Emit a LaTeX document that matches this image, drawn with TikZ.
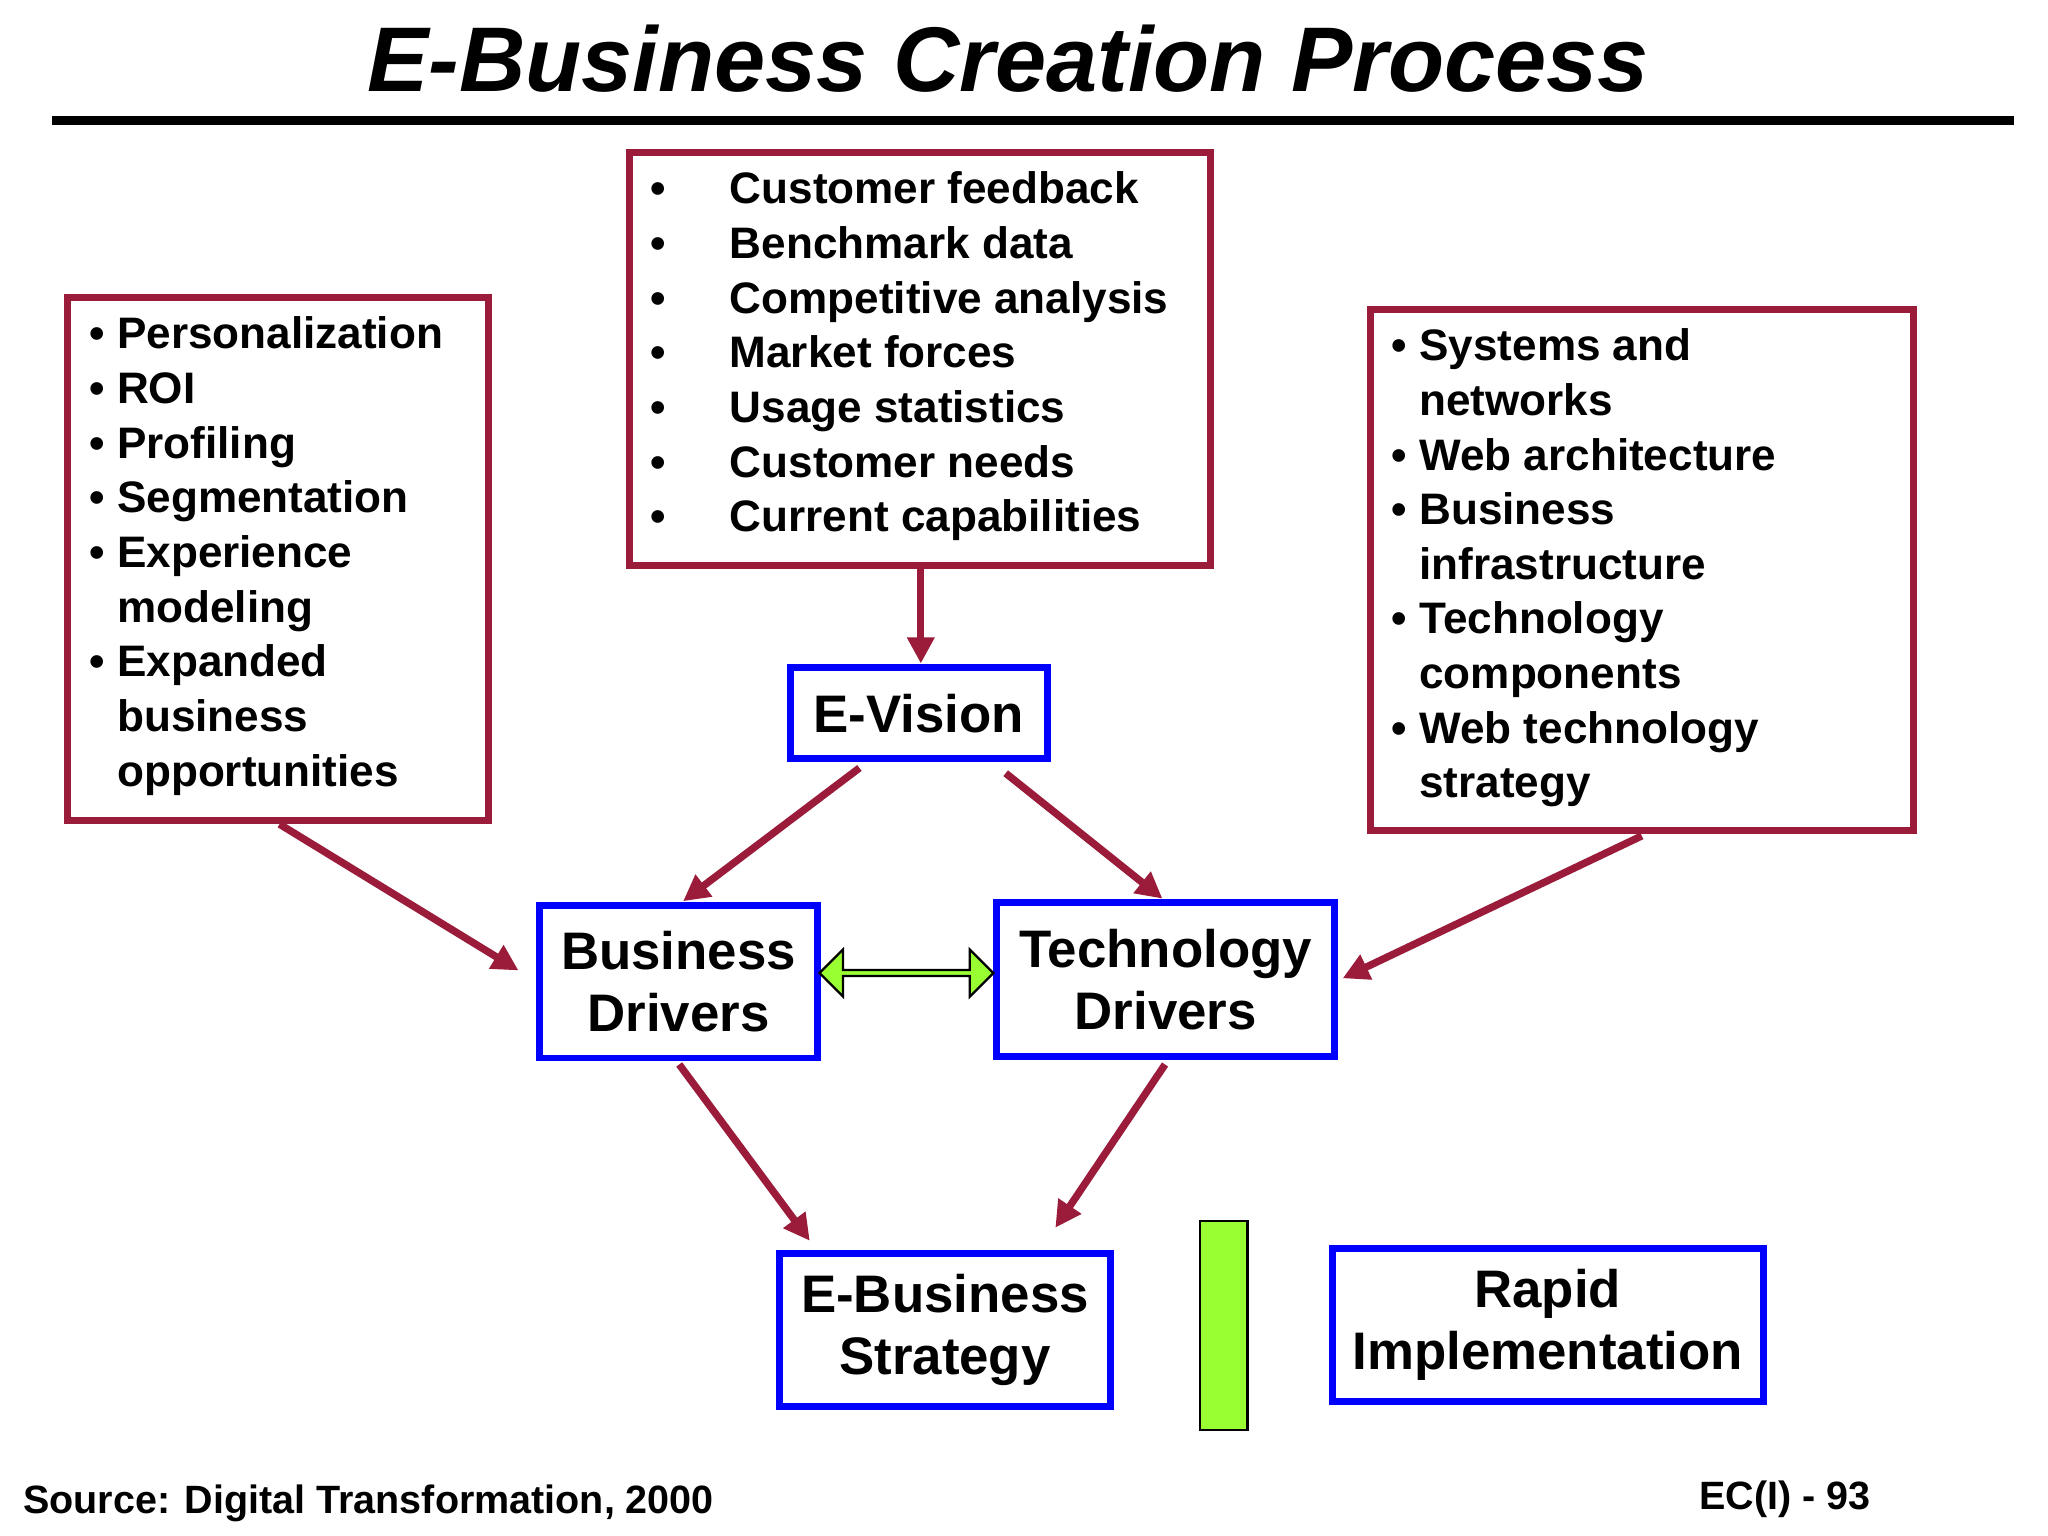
\documentclass[tikz,border=0pt]{standalone}
\usepackage{fontspec}
\setmainfont{Liberation Sans}
\usetikzlibrary{arrows.meta,shapes.arrows}
\definecolor{dred}{HTML}{9B1B3B}
\definecolor{lgreen}{HTML}{99FF33}
\tikzset{
  redbox/.style={draw=dred,line width=1.5pt,rectangle,inner sep=0pt},
  bluebox/.style={draw=blue,line width=1.5pt,rectangle,inner sep=0pt,align=center,font=\bfseries\fontsize{11.5}{13.5}\selectfont},
  lst/.style={anchor=north west,align=left,inner sep=0pt,font=\bfseries\fontsize{9.6}{11.9}\selectfont},
  rarr/.style={draw=dred,line width=1.6pt,-{Triangle[length=0.2cm,width=0.2cm]}},
  garr/.style={draw=black,fill=lgreen,line width=0.5pt,minimum width=0.38cm,inner sep=0pt,single arrow head extend=0.06cm,single arrow head indent=0pt}
}
\newcommand{\boxat}[5]{\node[#1,minimum width={(#4-#2)*0.01cm},minimum height={(#5-#3)*0.01cm}] at ({(#2+#4)/2},{(#3+#5)/2})}
\begin{document}
\begin{tikzpicture}[x=0.01cm,y=-0.01cm]
\useasboundingbox (0,0) rectangle (1568,1176);
\fill[white] (0,0) rectangle (1568,1176);
\node[font=\bfseries\itshape\fontsize{20}{24}\selectfont] (title) at (772,45) {E-Business Creation Process};
\draw[line width=1.9pt] (40,92) -- (1542,92);
% boxes
\boxat{redbox}{482}{117}{927}{433} (top) {};
\boxat{redbox}{52}{228}{374}{628} (left) {};
\boxat{redbox}{1049}{237}{1465}{636} (right) {};
\node[lst] (toptxt) at (497,131) {%
\makebox[0.61cm][l]{•}Customer feedback\\
\makebox[0.61cm][l]{•}Benchmark data\\
\makebox[0.61cm][l]{•}Competitive analysis\\
\makebox[0.61cm][l]{•}Market forces\\
\makebox[0.61cm][l]{•}Usage statistics\\
\makebox[0.61cm][l]{•}Customer needs\\
\makebox[0.61cm][l]{•}Current capabilities};
\node[lst] (lefttxt) at (68,242) {%
\makebox[0.21cm][l]{•}Personalization\\
\makebox[0.21cm][l]{•}ROI\\
\makebox[0.21cm][l]{•}Profiling\\
\makebox[0.21cm][l]{•}Segmentation\\
\makebox[0.21cm][l]{•}Experience\\
\hspace*{0.21cm}modeling\\
\makebox[0.21cm][l]{•}Expanded\\
\hspace*{0.21cm}business\\
\hspace*{0.21cm}opportunities};
\node[lst] (righttxt) at (1065,251) {%
\makebox[0.21cm][l]{•}Systems and\\
\hspace*{0.21cm}networks\\
\makebox[0.21cm][l]{•}Web architecture\\
\makebox[0.21cm][l]{•}Business\\
\hspace*{0.21cm}infrastructure\\
\makebox[0.21cm][l]{•}Technology\\
\hspace*{0.21cm}components\\
\makebox[0.21cm][l]{•}Web technology\\
\hspace*{0.21cm}strategy};
\boxat{bluebox}{605}{511}{802}{581} (ev) {E-Vision};
\boxat{bluebox}{413}{693}{626}{810} (bd) {Business\\Drivers};
\boxat{bluebox}{763}{691}{1022}{809} (td) {Technology\\Drivers};
\boxat{bluebox}{597}{960}{850}{1077} (es) {E-Business\\Strategy};
\boxat{bluebox}{1020}{956}{1350}{1073} (ri) {Rapid\\Implementation};
% red arrows
\coordinate (a1) at (705,433); \coordinate (a2) at (705,508);
\draw[rarr] (a1) -- (a2);
\coordinate (b1) at (658,588); \coordinate (b2) at (523,690);
\draw[rarr] (b1) -- (b2);
\coordinate (c1) at (770,592); \coordinate (c2) at (890,688);
\draw[rarr] (c1) -- (c2);
\coordinate (d1) at (214,631); \coordinate (d2) at (397,743);
\draw[rarr] (d1) -- (d2);
\coordinate (e1) at (1257,640); \coordinate (e2) at (1028,749);
\draw[rarr] (e1) -- (e2);
\coordinate (f1) at (520,815); \coordinate (f2) at (620,950);
\draw[rarr] (f1) -- (f2);
\coordinate (g1) at (892,815); \coordinate (g2) at (808,940);
\draw[rarr] (g1) -- (g2);
% green arrows
\node[garr,double arrow,double arrow head extend=0.06cm,double arrow head indent=0pt,minimum height=1.33cm,minimum width=0.36cm] (gd) at (694,745) {};
\node[garr,minimum height=1.6cm,minimum width=0.36cm] (gs) at (937,1015) {};
\node[anchor=west,font=\bfseries\fontsize{8.6}{10}\selectfont,inner sep=0pt] (src) at (17,1151) {Source: Digital Transformation, 2000};
\node[anchor=east,font=\bfseries\fontsize{8.6}{10}\selectfont,inner sep=0pt] (ec) at (1433,1148) {EC(I) - 93};
\end{tikzpicture}
\end{document}
